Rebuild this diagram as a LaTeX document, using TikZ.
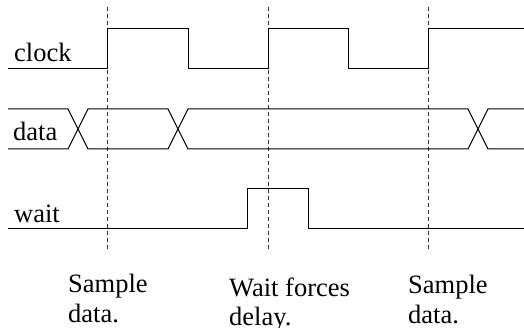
\documentclass[tikz,border=0pt]{standalone}
\usepackage{fontspec}
\setmainfont{Liberation Serif}
\begin{document}
\begin{tikzpicture}[x=1pt,y=-1pt,
  wave/.style={line width=1pt, line join=miter},
  guide/.style={line width=1pt, black!80, dash pattern=on 4pt off 3pt},
  siglabel/.style={anchor=base west, inner sep=0pt, font=\fontsize{26.5}{29}\selectfont},
  note/.style={anchor=base west, inner sep=0pt, align=left, font=\fontsize{26.5}{29}\selectfont}]
\useasboundingbox (0,0) rectangle (524,328);
% guide lines
\coordinate (g1t) at (107,7); \coordinate (g1b) at (107,250);
\coordinate (g2t) at (268,7); \coordinate (g2b) at (268,250);
\coordinate (g3t) at (428,7); \coordinate (g3b) at (428,250);
\draw[guide] (g1t) -- (g1b);
\draw[guide] (g2t) -- (g2b);
\draw[guide] (g3t) -- (g3b);
% clock
\coordinate (c0) at (8,69);
\coordinate (c1) at (524,29);
\draw[wave] (c0) -- (107,69) -- (107,29) -- (188,29) -- (188,69) -- (268,69) -- (268,29)
  -- (348,29) -- (348,69) -- (428,69) -- (428,29) -- (c1);
% data
\draw[wave] (8,109) -- (68,109) -- (88,149) -- (168,149) -- (188,109) -- (468,109) -- (488,149) -- (524,149);
\draw[wave] (8,149) -- (68,149) -- (88,109) -- (168,109) -- (188,149) -- (468,149) -- (488,109) -- (524,109);
% wait
\draw[wave] (8,229) -- (247,229) -- (247,189) -- (308,189) -- (308,229) -- (524,229);
% labels
\node[siglabel] (lclock) at (14,62) {clock};
\node[siglabel] (ldata) at (13,141) {data};
\node[siglabel] (lwait) at (14,223) {wait};
\node[note] (n1) at (68,322) {Sample\\data.};
\node[note] (n2) at (229,325) {Wait forces\\delay.};
\node[note] (n3) at (408,323) {Sample\\data.};
\end{tikzpicture}
\end{document}
